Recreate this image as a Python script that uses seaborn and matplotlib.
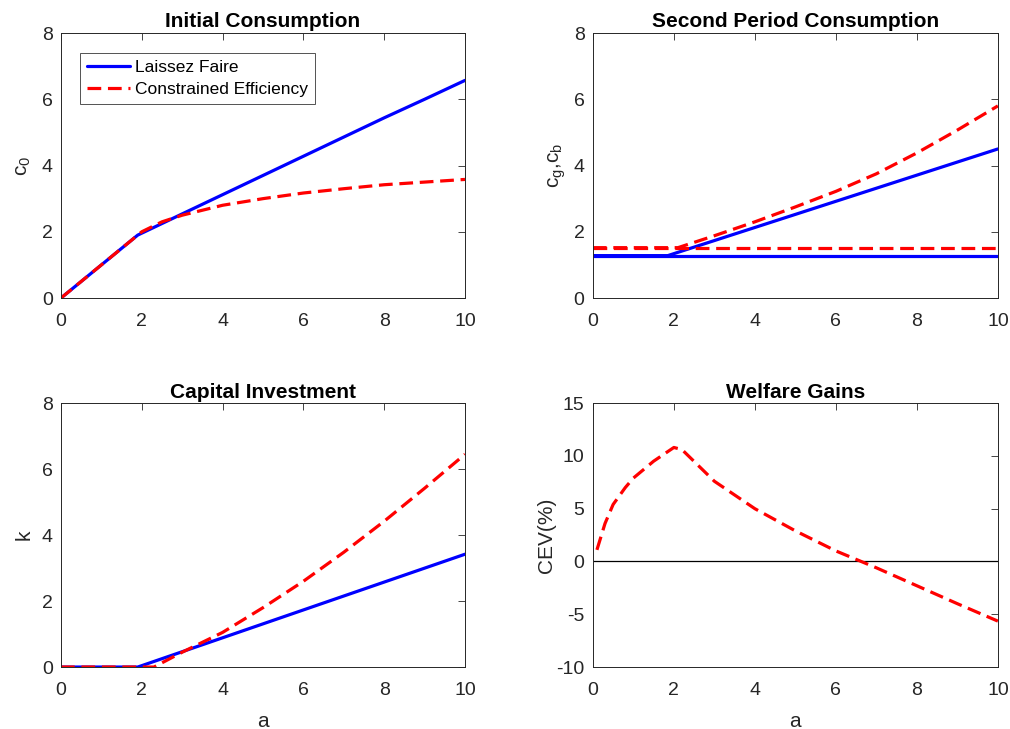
import matplotlib
matplotlib.use("Agg")
import matplotlib.pyplot as plt
import seaborn as sns

# ---- data ----
# Initial consumption c0
a_c0_lf = [0, 1, 1.9, 3, 4, 5, 6, 7, 8, 9, 10]
c0_lf = [0, 1.0, 1.9, 2.54, 3.12, 3.7, 4.28, 4.86, 5.44, 6.0, 6.57]
a_c0_ce = [0, 1, 2, 2.5, 3, 4, 5, 6, 7, 8, 9, 10]
c0_ce = [0, 1.0, 2.0, 2.3, 2.5, 2.8, 3.0, 3.17, 3.3, 3.42, 3.5, 3.58]

# Second period consumption (good / bad state)
a_cg_lf = [0, 1.85, 10]
cg_lf = [1.28, 1.28, 4.5]
a_cb_lf = [0, 10]
cb_lf = [1.28, 1.28]
a_cg_ce = [0, 2.1, 3, 4, 5, 6, 7, 8, 9, 10]
cg_ce = [1.52, 1.52, 1.88, 2.3, 2.75, 3.22, 3.75, 4.38, 5.07, 5.8]
a_cb_ce = [0, 10]
cb_ce = [1.52, 1.52]

# Capital investment
a_k_lf = [0, 1.9, 10]
k_lf = [0, 0, 3.42]
a_k_ce = [0, 2.3, 3, 4, 5, 6, 7, 8, 9, 10]
k_ce = [0, 0, 0.45, 1.05, 1.8, 2.6, 3.48, 4.42, 5.42, 6.45]

# Welfare gains
a_cev = [0.1, 0.3, 0.5, 0.8, 1, 1.5, 2, 2.2, 3, 4, 5, 6, 7, 8, 9, 10]
cev = [1.1, 3.6, 5.4, 7.0, 7.9, 9.5, 10.8, 10.6, 7.6, 5.0, 2.9, 1.0, -0.6, -2.3, -4.0, -5.65]

titles = ["Initial Consumption", "Second Period Consumption",
          "Capital Investment", "Welfare Gains"]
legend_labels = ["Laissez Faire", "Constrained Efficiency"]

# ---- style ----
sns.set_theme(style="white")
plt.rcParams["font.family"] = ["Liberation Sans", "DejaVu Sans"]
plt.rcParams["mathtext.default"] = "regular"
plt.rcParams["axes.unicode_minus"] = False

GREY = "#262626"
BLUE = "#0000ff"
RED = "#ff0000"
LW = 2.3
DASH = (4.3, 2.1)

fig = plt.figure(figsize=(10.10, 7.29), dpi=100)
fig.patch.set_facecolor("white")

W_L, W_R = 0.400, 0.401
X_L, X_R = 0.0604, 0.587
Y_T, Y_B = 0.5912, 0.085
H = 0.3635

ax1 = fig.add_axes([X_L, Y_T, W_L, H])
ax2 = fig.add_axes([X_R, Y_T, W_R, H])
ax3 = fig.add_axes([X_L, Y_B, W_L, 0.362])
ax4 = fig.add_axes([X_R, Y_B, W_R, 0.362])


def solid(ax, x, y, label=None):
    sns.lineplot(x=x, y=y, ax=ax, color=BLUE, lw=LW, label=label,
                 estimator=None, sort=False, legend=False)


def dashed(ax, x, y, label=None):
    sns.lineplot(x=x, y=y, ax=ax, color=RED, lw=LW, label=label,
                 estimator=None, sort=False, legend=False)
    ax.lines[-1].set_dashes(DASH)


# Initial consumption
solid(ax1, a_c0_lf, c0_lf, legend_labels[0])
dashed(ax1, a_c0_ce, c0_ce, legend_labels[1])

# Second period consumption
solid(ax2, a_cg_lf, cg_lf)
solid(ax2, a_cb_lf, cb_lf)
dashed(ax2, a_cg_ce, cg_ce)
dashed(ax2, a_cb_ce, cb_ce)

# Capital
solid(ax3, a_k_lf, k_lf)
dashed(ax3, a_k_ce, k_ce)

# Welfare
ax4.axhline(0, color="black", lw=0.9, zorder=1)
dashed(ax4, a_cev, cev)

for ax, t in zip([ax1, ax2, ax3, ax4], titles):
    ax.set_xlim(0, 10)
    ax.set_xticks([0, 2, 4, 6, 8, 10])
    ax.set_title(t, fontsize=15, fontweight="bold", color="black", pad=4)
    ax.tick_params(direction="in", length=5, width=0.6, colors=GREY,
                   labelsize=14, top=True, right=True, labelcolor=GREY)
    ax.tick_params(axis="x", pad=11)
    ax.tick_params(axis="y", pad=6)
    for s in ax.spines.values():
        s.set_color(GREY)
        s.set_linewidth(0.7)
        s.set_visible(True)
    ax.set_facecolor("white")

for ax in [ax1, ax2, ax3]:
    ax.set_ylim(0, 8)
    ax.set_yticks([0, 2, 4, 6, 8])
ax4.set_ylim(-10, 15)
ax4.set_yticks([-10, -5, 0, 5, 10, 15])

lab = dict(fontsize=15, color=GREY)
ax1.set_ylabel("c$_0$", labelpad=6, **lab)
ax2.set_ylabel("c$_g$,c$_b$", labelpad=4, **lab)
ax3.set_ylabel("k", labelpad=6, **lab)
ax4.set_ylabel("CEV(%)", labelpad=0, **lab)
ax3.set_xlabel("a", labelpad=9, **lab)
ax4.set_xlabel("a", labelpad=9, **lab)
ax1.set_xlabel("")
ax2.set_xlabel("")

leg = ax1.legend(loc="upper left", bbox_to_anchor=(0.047, 0.925),
                 borderaxespad=0, fontsize=12.5, frameon=True, fancybox=False,
                 handlelength=2.5, handletextpad=0.25, borderpad=0.4,
                 labelspacing=0.38)
leg.get_frame().set_edgecolor(GREY)
leg.get_frame().set_linewidth(0.7)
for txt in leg.get_texts():
    txt.set_color("black")

fig.savefig("out.png", dpi=100, facecolor="white")
